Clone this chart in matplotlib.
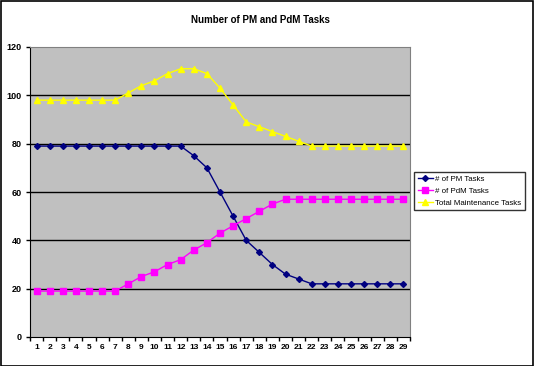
import numpy as np
import matplotlib
matplotlib.use("Agg")
import matplotlib.pyplot as plt
from matplotlib.patches import Rectangle

plt.rcParams["font.family"] = ["Liberation Sans", "DejaVu Sans"]

periods = list(range(1, 30))
pm_tasks = [79, 79, 79, 79, 79, 79, 79, 79, 79, 79, 79, 79, 75, 70, 60,
            50, 40, 35, 30, 26, 24, 22, 22, 22, 22, 22, 22, 22, 22]
pdm_tasks = [19, 19, 19, 19, 19, 19, 19, 22, 25, 27, 30, 32, 36, 39, 43,
             46, 49, 52, 55, 57, 57, 57, 57, 57, 57, 57, 57, 57, 57]
total_tasks = [98, 98, 98, 98, 98, 98, 98, 101, 104, 106, 109, 111, 111, 109, 103,
               96, 89, 87, 85, 83, 81, 79, 79, 79, 79, 79, 79, 79, 79]
y_ticks = [0, 20, 40, 60, 80, 100, 120]

fig = plt.figure(figsize=(5.34, 3.66), dpi=100)
fig.patches.append(Rectangle((0.001, 0.001), 0.997, 0.996, transform=fig.transFigure,
                             fill=False, edgecolor="black", linewidth=1.2))

ax = fig.add_axes([30 / 534, 29 / 366, 380 / 534, 290 / 366])
ax.set_facecolor("#C0C0C0")

for y in y_ticks[1:-1]:
    ax.axhline(y, color="black", linewidth=1, zorder=1)

ax.plot(periods, pm_tasks, color="#000080", marker="D", markersize=3,
        linewidth=1, label="# of PM Tasks", zorder=3)
ax.plot(periods, pdm_tasks, color="#FF00FF", marker="s", markersize=4.3,
        linewidth=1, label="# of PdM Tasks", zorder=3)
ax.plot(periods, total_tasks, color="#FFFF00", marker="^", markersize=4.8,
        linewidth=1, label="Total Maintenance Tasks", zorder=3)

ax.set_xlim(0.5, len(periods) + 0.5)
ax.set_ylim(0, 120)
ax.set_yticks(y_ticks)
ax.set_xticks(periods)
ax.set_xticks(np.arange(0.5, len(periods) + 1, 1), minor=True)
ax.tick_params(axis="x", which="major", length=0, labelsize=6, pad=5)
ax.tick_params(axis="x", which="minor", length=3, direction="out", width=1)
ax.tick_params(axis="y", length=3, direction="out", labelsize=6.5, pad=3, width=1)
for lbl in ax.get_xticklabels() + ax.get_yticklabels():
    lbl.set_fontweight("bold")

for side in ["top", "right"]:
    ax.spines[side].set_color("#808080")
for side in ["left", "bottom"]:
    ax.spines[side].set_color("black")

fig.text(0.487, 0.945, "Number of PM and PdM Tasks", ha="center", va="center",
         fontsize=7, fontweight="bold")

leg = fig.legend(loc="upper left", bbox_to_anchor=(414 / 534, 1 - 172 / 366),
                 fontsize=5.7, frameon=True, fancybox=False, edgecolor="black",
                 handlelength=2.0, handletextpad=0.2, borderpad=0.45,
                 labelspacing=0.55, borderaxespad=0)
leg.get_frame().set_linewidth(1)

fig.savefig("out.png", dpi=100)
